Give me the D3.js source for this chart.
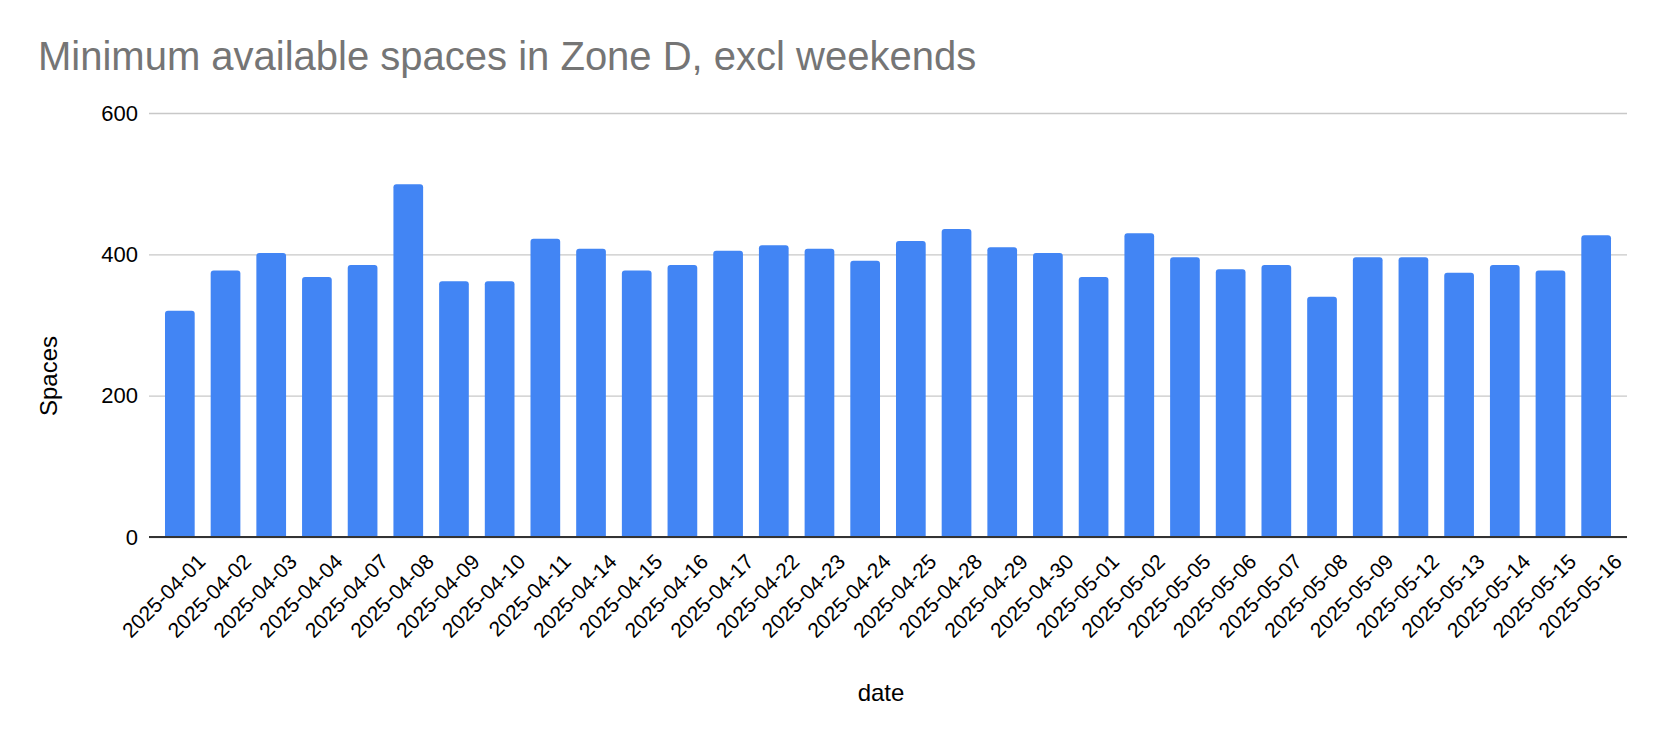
<!DOCTYPE html>
<html>
<head>
<meta charset="utf-8">
<script src="https://cdn.jsdelivr.net/npm/d3@7"></script>
<style>
  html, body { margin: 0; padding: 0; background: #ffffff; }
  svg { display: block; }
  text { font-family: "Liberation Sans", Arial, Helvetica, sans-serif; }
</style>
</head>
<body>
<svg id="chart" width="1664" height="740"></svg>
<script>
const dates = ["2025-04-01","2025-04-02","2025-04-03","2025-04-04","2025-04-07","2025-04-08","2025-04-09","2025-04-10","2025-04-11","2025-04-14","2025-04-15","2025-04-16","2025-04-17","2025-04-22","2025-04-23","2025-04-24","2025-04-25","2025-04-28","2025-04-29","2025-04-30","2025-05-01","2025-05-02","2025-05-05","2025-05-06","2025-05-07","2025-05-08","2025-05-09","2025-05-12","2025-05-13","2025-05-14","2025-05-15","2025-05-16"];
const spaces = [320,377,402,368,385,499,362,362,422,408,377,385,405,413,408,391,419,436,410,402,368,430,396,379,385,340,396,396,374,385,377,427];
const yTicks = [0,200,400,600];
const titleText = "Minimum available spaces in Zone D, excl weekends";
const xTitle = "date";
const yTitle = "Spaces";

const svg = d3.select("#chart");
const mLeft = 149, mRight = 1627, mTop = 113, mBottom = 537;

const x = d3.scaleBand().domain(dates).range([mLeft, mRight]).paddingInner(0.35).paddingOuter(0.35);
const y = d3.scaleLinear().domain([0, 600]).range([mBottom, mTop]);

// title
svg.append("text").attr("x", 38).attr("y", 70)
  .attr("font-size", 40).attr("fill", "#757575").text(titleText);

// gridlines
const yAxis = d3.axisLeft(y).tickValues(yTicks).tickSize(-(mRight - mLeft)).tickPadding(11).tickFormat(d3.format("d"));
const gy = svg.append("g").attr("transform", `translate(${mLeft},0)`).call(yAxis);
gy.select(".domain").remove();
gy.selectAll(".tick line").attr("stroke", "#c8c8c8").attr("stroke-width", 1.3);
gy.selectAll(".tick text").attr("font-size", 22).attr("fill", "#000").attr("font-family", "Liberation Sans, Arial, sans-serif");

// bars with rounded top corners
const r = 3;
svg.append("g").selectAll("path").data(dates).join("path")
  .attr("fill", "#4285f4")
  .attr("d", (d, i) => {
    const x0 = x(d), w = x.bandwidth(), y0 = y(spaces[i]), yb = y(0);
    return `M${x0},${yb} L${x0},${y0 + r} Q${x0},${y0} ${x0 + r},${y0} L${x0 + w - r},${y0} Q${x0 + w},${y0} ${x0 + w},${y0 + r} L${x0 + w},${yb} Z`;
  });

// x axis
const xAxis = d3.axisBottom(x).tickSize(0).tickPadding(0);
const gx = svg.append("g").attr("transform", `translate(0,${mBottom})`).call(xAxis);
gx.select(".domain").attr("stroke", "#333333").attr("stroke-width", 2).attr("d", `M${mLeft},0H${mRight}`);
gx.selectAll(".tick text")
  .attr("font-size", 21).attr("fill", "#000").attr("font-family", "Liberation Sans, Arial, sans-serif")
  .attr("text-anchor", "end")
  .attr("dy", 0)
  .attr("transform", "translate(27,26) rotate(-45)");

// axis titles
svg.append("text").attr("x", 881).attr("y", 701)
  .attr("text-anchor", "middle").attr("font-size", 24).attr("fill", "#000").text(xTitle);
svg.append("text").attr("transform", "translate(57,376) rotate(-90)")
  .attr("text-anchor", "middle").attr("font-size", 24).attr("fill", "#000").text(yTitle);
</script>
</body>
</html>
